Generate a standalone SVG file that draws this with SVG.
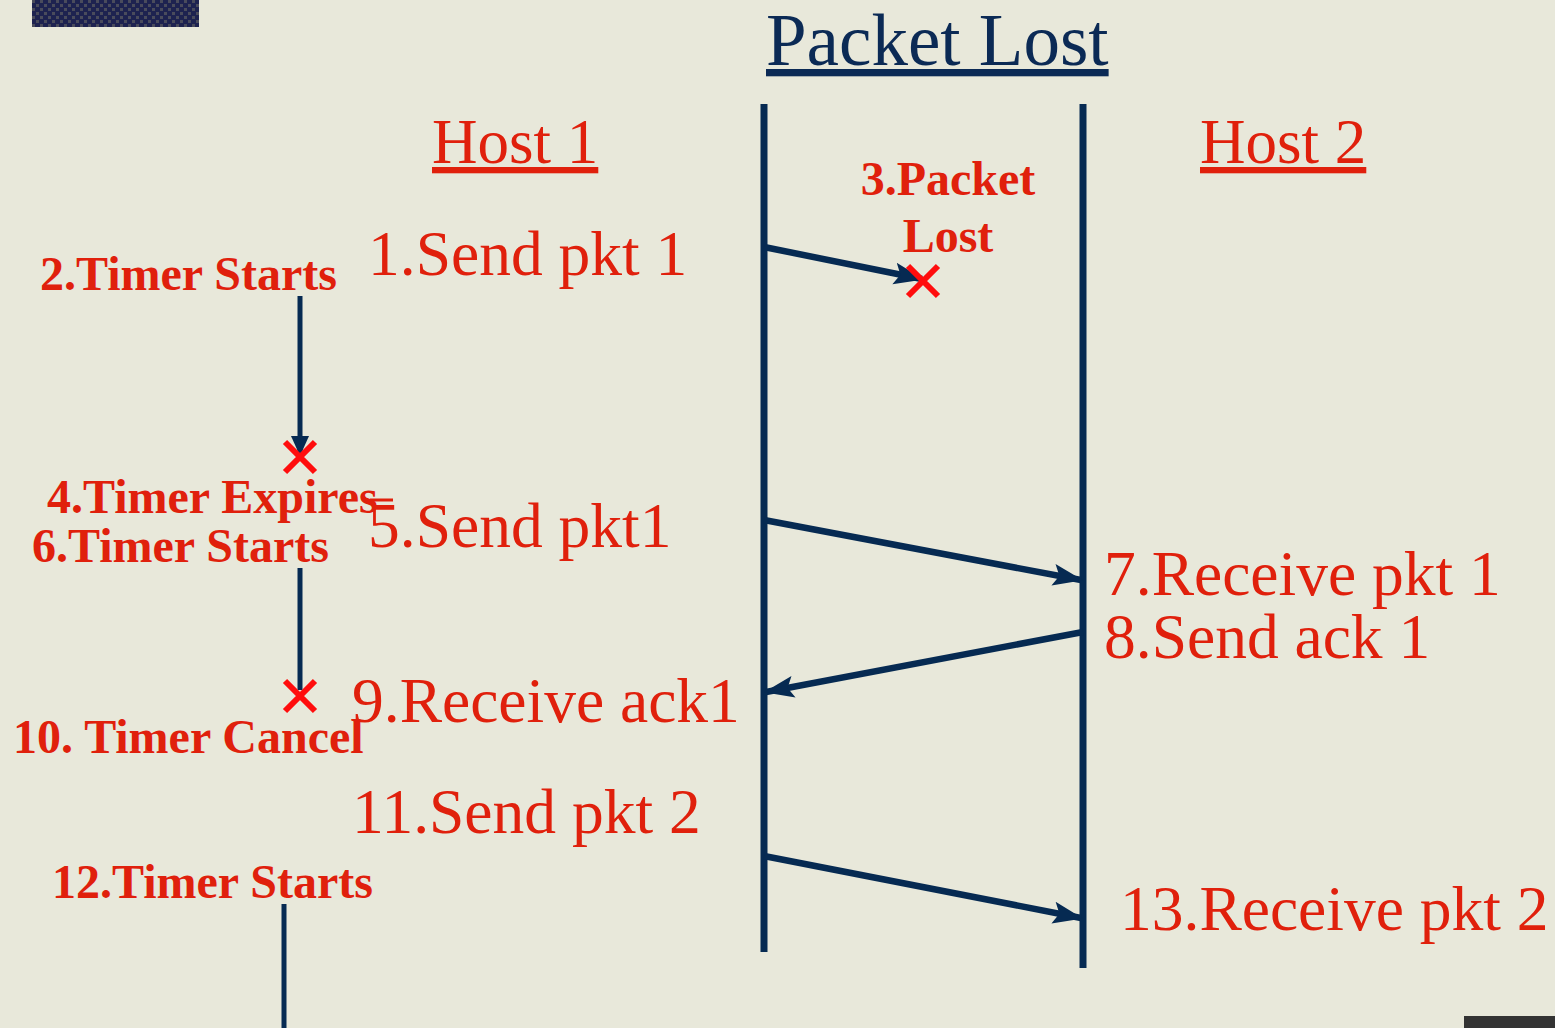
<svg xmlns="http://www.w3.org/2000/svg" width="1555" height="1028" viewBox="0 0 1555 1028">
  <style>
    .title { font-family: "Liberation Serif", "Times New Roman", serif; font-size: 73px; fill: #0b2a55; text-decoration: underline; }
    .host { font-family: "Liberation Serif", "Times New Roman", serif; font-size: 63px; fill: #e0200c; text-decoration: underline; }
    .step { font-family: "Liberation Serif", "Times New Roman", serif; font-size: 63.5px; fill: #e0200c; }
    .note { font-family: "Liberation Serif", "Times New Roman", serif; font-size: 48px; font-weight: bold; fill: #e0200c; }
    .life { stroke: #062a52; stroke-width: 7; fill: none; }
    .msg { stroke: #062a52; stroke-width: 6.5; fill: none; marker-end: url(#head); }
    .timer { stroke: #062a52; stroke-width: 5; fill: none; }
    .cross { stroke: #ff0d0d; stroke-width: 6; fill: none; }
  </style>
  <defs>
    <marker id="head" markerUnits="userSpaceOnUse" markerWidth="34" markerHeight="28" refX="28" refY="14" orient="auto">
      <path d="M0,3 L30,14 L0,25 L6,14 Z" fill="#062a52"/>
    </marker>
    <marker id="headSmall" markerUnits="userSpaceOnUse" markerWidth="22" markerHeight="22" refX="18" refY="11" orient="auto">
      <path d="M0,2 L20,11 L0,20 Z" fill="#062a52"/>
    </marker>
    <pattern id="weave" width="8" height="8" patternUnits="userSpaceOnUse">
      <rect width="8" height="8" fill="#1e2350"/>
      <rect x="0" y="0" width="3" height="3" fill="#4a4c5c"/>
      <rect x="4" y="4" width="3" height="3" fill="#4a4c5c"/>
    </pattern>
  </defs>

  <!-- paper background -->
  <rect width="1555" height="1028" fill="#e8e8da"/>
  <rect x="32" y="0" width="167" height="27" fill="url(#weave)"/>
  <rect x="1464" y="1016" width="91" height="12" fill="#333333"/>

  <!-- headings -->
  <text class="title" x="766" y="65">Packet Lost</text>
  <text class="host" x="432" y="163">Host 1</text>
  <text class="host" x="1200" y="163">Host 2</text>

  <!-- host lifelines and messages -->
  <g id="connectors">
    <line class="life" x1="764" y1="104" x2="764" y2="952"/>
    <line class="life" x1="1083" y1="104" x2="1083" y2="968"/>
    <line class="msg" x1="764" y1="247" x2="922" y2="279"/>
    <line class="msg" x1="764" y1="520" x2="1081" y2="580"/>
    <line class="msg" x1="1083" y1="632" x2="766" y2="692"/>
    <line class="msg" x1="764" y1="856" x2="1081" y2="918"/>
    <line class="timer" x1="300" y1="296" x2="300" y2="454" marker-end="url(#headSmall)"/>
    <line class="timer" x1="300" y1="568" x2="300" y2="690"/>
    <line class="timer" x1="284" y1="904" x2="284" y2="1028"/>
  </g>

  <!-- loss / expiry marks -->
  <g id="marks">
    <path class="cross" d="M908,266 L938,296 M938,266 L908,296"/>
    <path class="cross" d="M285,442 L315,472 M315,442 L285,472"/>
    <path class="cross" d="M285,681 L315,711 M315,681 L285,711"/>
  </g>

  <!-- host 1 events -->
  <g id="host1-events">
    <text class="step" x="368" y="275">1.Send pkt 1</text>
    <text class="step" x="368" y="547">5.Send pkt1</text>
    <text class="step" x="352" y="722">9.Receive ack1</text>
    <text class="step" x="352" y="833">11.Send pkt 2</text>
  </g>

  <!-- timer events -->
  <g id="timer-events">
    <text class="note" x="40" y="290">2.Timer Starts</text>
    <text class="note" x="47" y="513">4.Timer Expires</text>
    <line x1="370" y1="500" x2="393" y2="500" stroke="#e0200c" stroke-width="3"/>
    <text class="note" x="32" y="562">6.Timer Starts</text>
    <text class="note" x="13" y="753">10. Timer Cancel</text>
    <text class="note" x="52" y="898">12.Timer Starts</text>
  </g>

  <!-- channel event -->
  <g id="loss-event">
    <text class="note" x="948" y="195" text-anchor="middle">3.Packet</text>
    <text class="note" x="948" y="252" text-anchor="middle">Lost</text>
  </g>

  <!-- host 2 events -->
  <g id="host2-events">
    <text class="step" x="1104" y="595">7.Receive pkt 1</text>
    <text class="step" x="1104" y="658">8.Send ack 1</text>
    <text class="step" x="1120" y="930">13.Receive pkt 2</text>
  </g>
</svg>
